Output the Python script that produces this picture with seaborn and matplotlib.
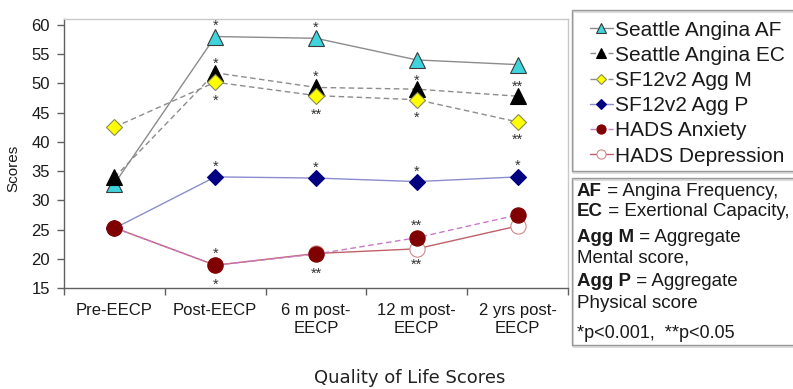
import matplotlib
matplotlib.use("Agg")
import matplotlib.pyplot as plt
from matplotlib.patches import Rectangle
import seaborn as sns

# Values
time_points = ["Pre-EECP", "Post-EECP", "6 m post-\nEECP", "12 m post-\nEECP", "2 yrs post-\nEECP"]
seattle_af = [32.8, 58.0, 57.7, 54.0, 53.2]
seattle_ec = [33.9, 51.8, 49.3, 49.0, 47.8]
sf12_agg_m = [42.5, 50.2, 47.9, 47.2, 43.4]
sf12_agg_p = [25.2, 34.0, 33.8, 33.2, 34.0]
hads_anxiety = [25.3, 18.9, 20.8, 23.6, 27.5]
hads_depression = [25.3, 18.9, 20.9, 21.7, 25.6]

# significance marks: category index, score level, text
star_idx = [1, 1, 1, 1, 1, 1, 2, 2, 2, 2, 2, 3, 3, 3, 3, 3, 4, 4, 4]
star_val = [60.4, 53.9, 47.6, 36.3, 21.5, 16.2,
            60.2, 51.7, 45.3, 36.1, 18.0,
            51.0, 44.8, 35.5, 26.2, 19.6,
            50.0, 40.9, 36.5]
star_txt = ["*", "*", "*", "*", "*", "*",
            "*", "*", "**", "*", "**",
            "*", "*", "*", "**", "**",
            "**", "**", "*"]

note_bold = ["AF", "EC", "Agg M", "", "Agg P", "", ""]
note_rest = [" = Angina Frequency,", " = Exertional Capacity,", " = Aggregate",
             "Mental score,", " = Aggregate", "Physical score", "*p<0.001,  **p<0.05"]

sns.set_theme(style="white")
plt.rcParams["font.family"] = ["Liberation Sans", "DejaVu Sans"]

W, H = 793, 389
fig = plt.figure(figsize=(W / 100, H / 100), dpi=100)
ax = fig.add_axes([64 / W, 1 - 288 / H, 504 / W, 269 / H])

series = [
    ("Seattle Angina AF", seattle_af, 2,
     dict(color="#8c8c8c", linestyle="-", marker="^", markersize=12,
          markerfacecolor="#3fd4dc", markeredgecolor="#3a3a3a")),
    ("Seattle Angina EC", seattle_ec, 3,
     dict(color="#8c8c8c", linestyle=(0, (4, 2.5)), marker="^", markersize=12,
          markerfacecolor="#000000", markeredgecolor="#000000")),
    ("SF12v2 Agg M", sf12_agg_m, 4,
     dict(color="#8c8c8c", linestyle=(0, (4, 2.5)), marker="D", markersize=8,
          markerfacecolor="#ffff00", markeredgecolor="#8a8a5a")),
    ("SF12v2 Agg P", sf12_agg_p, 2.5,
     dict(color="#8c8cd0", linestyle="-", marker="D", markersize=8,
          markerfacecolor="#000080", markeredgecolor="#000080")),
    ("HADS Anxiety", hads_anxiety, 3.5,
     dict(color="#c878c8", linestyle=(0, (4, 2.5)), marker="o", markersize=11,
          markerfacecolor="#800000", markeredgecolor="#800000")),
    ("HADS Depression", hads_depression, 2.2,
     dict(color="#c06068", linestyle="-", marker="o", markersize=11,
          markerfacecolor="#ffffff", markeredgecolor="#d08888")),
]

for name, vals, z, st in series:
    sns.lineplot(x=time_points, y=vals, ax=ax, sort=False, label=name,
                 linewidth=1, markeredgewidth=0.8, zorder=z, **st)

for i, v, s in zip(star_idx, star_val, star_txt):
    ax.annotate(s, xy=(i, v), xytext=(0, -5.5), textcoords="offset points",
                ha="center", va="baseline", fontsize=10.5, color="#333333")

ax.set_xlim(-0.5, 4.5)
ax.set_ylim(15, 61)
ax.set_yticks(range(15, 61, 5))
ax.set_xticks([-0.5, 0.5, 1.5, 2.5, 3.5, 4.5], labels=[""] * 6)
ax.set_xticks(range(5), labels=time_points, minor=True)
ax.tick_params(axis="x", which="major", length=5, width=1, color="#606060", direction="out", bottom=True)
ax.tick_params(axis="x", which="minor", length=0, pad=11, labelsize=12, labelcolor="#1a1a1a")
ax.tick_params(axis="y", length=5, width=1, color="#606060", direction="out", left=True,
               pad=5, labelsize=12, labelcolor="#1a1a1a")
ax.set_xlabel("")
ax.set_ylabel("Scores", fontsize=11, color="#1a1a1a")
ax.yaxis.set_label_coords(-0.087, 0.446)

for side in ["top", "right"]:
    ax.spines[side].set_color("#c8c8c8")
for side in ["left", "bottom"]:
    ax.spines[side].set_color("#606060")
for sp in ax.spines.values():
    sp.set_linewidth(1)

handles, labels = ax.get_legend_handles_labels()
if ax.get_legend() is not None:
    ax.get_legend().remove()

# legend box and notes box
for y0, y1 in [(10, 171), (178, 345)]:
    fig.add_artist(Rectangle((573 / W, 1 - (y1 + 1.5) / H), 0.4, (y1 - y0) / H,
                             transform=fig.transFigure, fill=False,
                             edgecolor="#dddddd", linewidth=1.5))
    fig.add_artist(Rectangle((572 / W, 1 - y1 / H), 0.4, (y1 - y0) / H,
                             transform=fig.transFigure, fill=False,
                             edgecolor="#999999", linewidth=1))

fig.legend(handles, labels, loc="upper left", bbox_to_anchor=(590 / W, 1 - 20.5 / H),
           frameon=False, fontsize=15, handlelength=1.1, handletextpad=0.1,
           labelspacing=0.3, borderpad=0, borderaxespad=0, markerscale=0.6,
           labelcolor="#1a1a1a")

note_y = [192, 212, 237, 258, 282, 303, 333]
for b, r, y in zip(note_bold, note_rest, note_y):
    fs = 13 if r.startswith("*") else 13.5
    if b:
        t = fig.text(577 / W, 1 - y / H, b, weight="bold", va="center",
                     fontsize=fs, color="#1a1a1a")
        ax.annotate(r, xy=(1, 0), xycoords=t, ha="left", va="bottom",
                    fontsize=fs, color="#1a1a1a", annotation_clip=False)
    else:
        fig.text(577 / W, 1 - y / H, r, va="center", fontsize=fs, color="#1a1a1a")

fig.text(410 / W, 1 - 378 / H, "Quality of Life Scores", ha="center", va="center",
         family="DejaVu Sans", fontsize=13, color="#222222")

fig.savefig("out.png", dpi=100)
